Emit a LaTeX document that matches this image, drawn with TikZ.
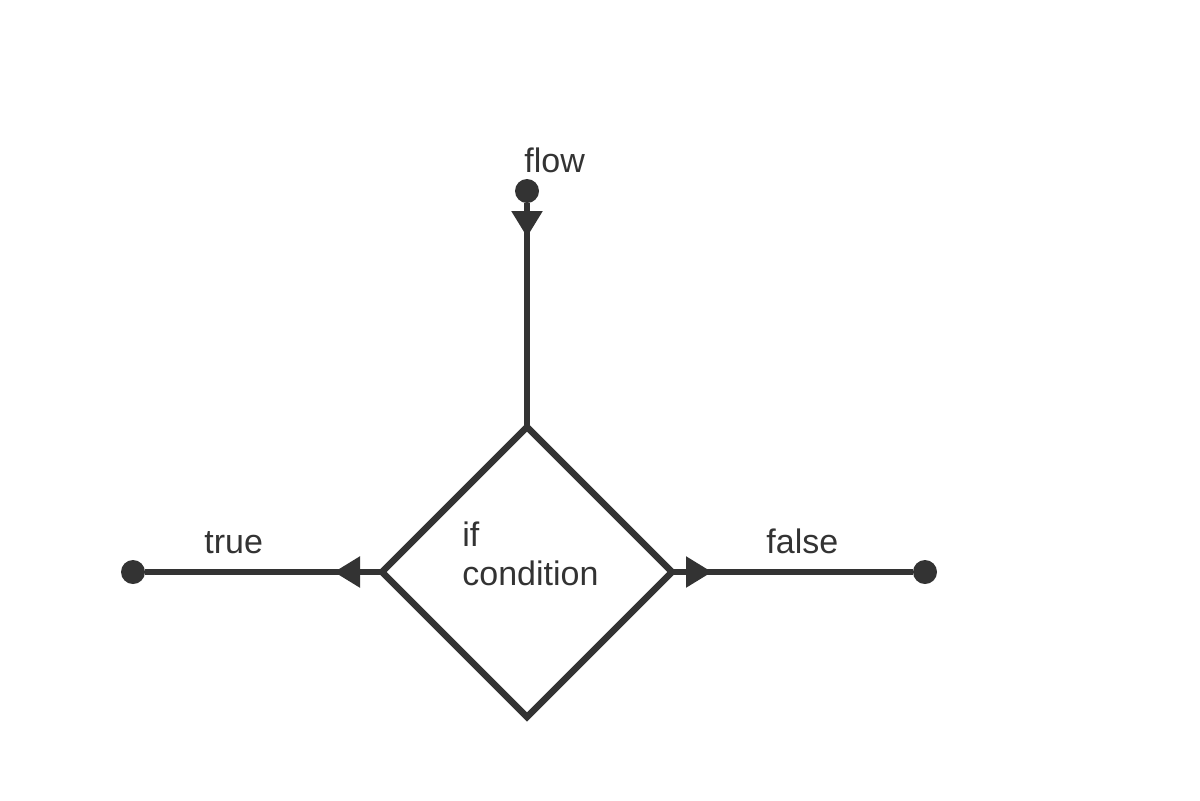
\documentclass[tikz,border=0pt]{standalone}
\usepackage{fontspec}
\setmainfont{Liberation Sans}
\usetikzlibrary{shapes.geometric,arrows.meta,decorations.markings}
\definecolor{ink}{HTML}{333333}
\begin{document}
\begin{tikzpicture}[x=0.5pt,y=-0.5pt,
  line/.style={draw=ink,line width=2.75pt},
  dot/.style={circle,fill=ink,inner sep=0,outer sep=0,minimum size=12pt},
  lbl/.style={text=ink,font=\fontsize{17pt}{19.5pt}\selectfont,inner sep=0,anchor=base west},
  tipat/.style={postaction={decorate},decoration={markings,mark=at position #1 with {\arrow[ink]{Triangle[width=15pt,length=13pt]}}}}]
\useasboundingbox (0,0) rectangle (1200,800);
\node[diamond,draw=ink,line width=3.25pt,minimum width=145pt,minimum height=145pt,inner sep=0,outer sep=0] (cond) at (527,572) {};
\node[dot] (flow) at (527,191) {};
\node[dot] (true) at (133,572) {};
\node[dot] (false) at (925,572) {};
\draw[line,tipat=17pt] (flow) -- (cond.north);
\draw[line,tipat=24pt] (cond.west) -- (true);
\draw[line,tipat=20pt] (cond.east) -- (false);
\node[lbl] (tflow) at (524,172) {flow};
\node[lbl] (ttrue) at (204,553) {true};
\node[lbl] (tfalse) at (766,553) {false};
\node[lbl,align=left] (tcond) at (462,585) {if\\condition};
\end{tikzpicture}
\end{document}
